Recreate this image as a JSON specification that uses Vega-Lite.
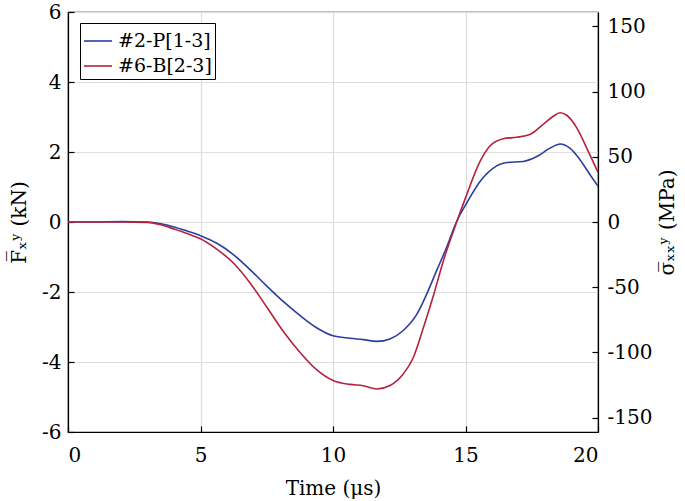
{
  "$schema": "https://vega.github.io/schema/vega-lite/v6.json",
  "width": 530,
  "height": 420,
  "autosize": {"type": "none"},
  "padding": {"left": 68, "top": 12, "right": 87, "bottom": 69},
  "background": "white",
  "config": {
    "view": {"stroke": "black", "strokeWidth": 1.2},
    "font": "DejaVu Serif",
    "axis": {
      "domainColor": "black",
      "domainWidth": 1.2,
      "tickColor": "black",
      "tickWidth": 1.2,
      "tickSize": -6,
      "labelColor": "black",
      "titleColor": "black",
      "labelFont": "DejaVu Serif",
      "titleFont": "DejaVu Serif",
      "labelFontSize": 20,
      "titleFontSize": 20,
      "titleFontWeight": "normal",
      "gridColor": "#dedede",
      "gridWidth": 1.2,
      "labelExpr": "toString(datum.value)"
    }
  },
  "datasets": {
    "curves": [
      {"series": "#2-P[1-3]", "t": 0, "F": 0},
      {"series": "#2-P[1-3]", "t": 1, "F": 0.0},
      {"series": "#2-P[1-3]", "t": 2, "F": 0.01},
      {"series": "#2-P[1-3]", "t": 3, "F": 0.0},
      {"series": "#2-P[1-3]", "t": 3.5, "F": -0.05},
      {"series": "#2-P[1-3]", "t": 4, "F": -0.14},
      {"series": "#2-P[1-3]", "t": 4.5, "F": -0.26},
      {"series": "#2-P[1-3]", "t": 5, "F": -0.39},
      {"series": "#2-P[1-3]", "t": 5.6, "F": -0.6},
      {"series": "#2-P[1-3]", "t": 6.24, "F": -0.93},
      {"series": "#2-P[1-3]", "t": 6.87, "F": -1.36},
      {"series": "#2-P[1-3]", "t": 7.5, "F": -1.83},
      {"series": "#2-P[1-3]", "t": 8.12, "F": -2.27},
      {"series": "#2-P[1-3]", "t": 8.75, "F": -2.67},
      {"series": "#2-P[1-3]", "t": 9.38, "F": -3.02},
      {"series": "#2-P[1-3]", "t": 10, "F": -3.25},
      {"series": "#2-P[1-3]", "t": 10.64, "F": -3.32},
      {"series": "#2-P[1-3]", "t": 11.14, "F": -3.36},
      {"series": "#2-P[1-3]", "t": 11.65, "F": -3.41},
      {"series": "#2-P[1-3]", "t": 12.15, "F": -3.34},
      {"series": "#2-P[1-3]", "t": 12.65, "F": -3.1},
      {"series": "#2-P[1-3]", "t": 13.16, "F": -2.64},
      {"series": "#2-P[1-3]", "t": 13.53, "F": -2.07},
      {"series": "#2-P[1-3]", "t": 13.91, "F": -1.39},
      {"series": "#2-P[1-3]", "t": 14.23, "F": -0.83},
      {"series": "#2-P[1-3]", "t": 14.7, "F": 0.07},
      {"series": "#2-P[1-3]", "t": 15.05, "F": 0.55},
      {"series": "#2-P[1-3]", "t": 15.55, "F": 1.16},
      {"series": "#2-P[1-3]", "t": 16.05, "F": 1.54},
      {"series": "#2-P[1-3]", "t": 16.55, "F": 1.7},
      {"series": "#2-P[1-3]", "t": 17.18, "F": 1.73},
      {"series": "#2-P[1-3]", "t": 17.69, "F": 1.87},
      {"series": "#2-P[1-3]", "t": 18.19, "F": 2.11},
      {"series": "#2-P[1-3]", "t": 18.57, "F": 2.23},
      {"series": "#2-P[1-3]", "t": 18.94, "F": 2.11},
      {"series": "#2-P[1-3]", "t": 19.32, "F": 1.78},
      {"series": "#2-P[1-3]", "t": 19.7, "F": 1.35},
      {"series": "#2-P[1-3]", "t": 20, "F": 1.02},
      {"series": "#6-B[2-3]", "t": 0, "F": 0},
      {"series": "#6-B[2-3]", "t": 1, "F": 0.0},
      {"series": "#6-B[2-3]", "t": 2, "F": 0.0},
      {"series": "#6-B[2-3]", "t": 3, "F": -0.01},
      {"series": "#6-B[2-3]", "t": 3.5, "F": -0.08},
      {"series": "#6-B[2-3]", "t": 4, "F": -0.2},
      {"series": "#6-B[2-3]", "t": 4.5, "F": -0.33},
      {"series": "#6-B[2-3]", "t": 5, "F": -0.48},
      {"series": "#6-B[2-3]", "t": 5.6, "F": -0.77},
      {"series": "#6-B[2-3]", "t": 6.24, "F": -1.17},
      {"series": "#6-B[2-3]", "t": 6.87, "F": -1.74},
      {"series": "#6-B[2-3]", "t": 7.5, "F": -2.43},
      {"series": "#6-B[2-3]", "t": 8.12, "F": -3.12},
      {"series": "#6-B[2-3]", "t": 8.75, "F": -3.72},
      {"series": "#6-B[2-3]", "t": 9.38, "F": -4.22},
      {"series": "#6-B[2-3]", "t": 10, "F": -4.53},
      {"series": "#6-B[2-3]", "t": 10.64, "F": -4.64},
      {"series": "#6-B[2-3]", "t": 11.14, "F": -4.68},
      {"series": "#6-B[2-3]", "t": 11.65, "F": -4.77},
      {"series": "#6-B[2-3]", "t": 12.15, "F": -4.67},
      {"series": "#6-B[2-3]", "t": 12.65, "F": -4.34},
      {"series": "#6-B[2-3]", "t": 13.03, "F": -3.87},
      {"series": "#6-B[2-3]", "t": 13.41, "F": -3.02},
      {"series": "#6-B[2-3]", "t": 13.79, "F": -2.1},
      {"series": "#6-B[2-3]", "t": 14.16, "F": -1.12},
      {"series": "#6-B[2-3]", "t": 14.7, "F": 0.07},
      {"series": "#6-B[2-3]", "t": 15.0, "F": 0.69},
      {"series": "#6-B[2-3]", "t": 15.55, "F": 1.73},
      {"series": "#6-B[2-3]", "t": 15.92, "F": 2.17},
      {"series": "#6-B[2-3]", "t": 16.43, "F": 2.38},
      {"series": "#6-B[2-3]", "t": 16.93, "F": 2.42},
      {"series": "#6-B[2-3]", "t": 17.43, "F": 2.5},
      {"series": "#6-B[2-3]", "t": 17.93, "F": 2.79},
      {"series": "#6-B[2-3]", "t": 18.31, "F": 3.02},
      {"series": "#6-B[2-3]", "t": 18.57, "F": 3.12},
      {"series": "#6-B[2-3]", "t": 18.82, "F": 3.05},
      {"series": "#6-B[2-3]", "t": 19.2, "F": 2.69},
      {"series": "#6-B[2-3]", "t": 19.57, "F": 2.12},
      {"series": "#6-B[2-3]", "t": 20, "F": 1.42}
    ],
    "rightAxis": [
      {"s": -161},
      {"s": 161}
    ]
  },
  "layer": [
    {
      "data": {"name": "curves"},
      "mark": {"type": "line", "strokeWidth": 1.6, "interpolate": "monotone"},
      "encoding": {
        "x": {
          "field": "t",
          "type": "quantitative",
          "scale": {"domain": [0, 20], "nice": false, "zero": false},
          "axis": {"values": [0, 5, 10, 15, 20], "title": "Time (μs)", "labelPadding": 19, "titleY": 56, "titleBaseline": "middle"}
        },
        "y": {
          "field": "F",
          "type": "quantitative",
          "scale": {"domain": [-6, 6], "nice": false},
          "axis": {"orient": "left", "values": [-6, -4, -2, 0, 2, 4, 6], "title": "F̅ₓʸ (kN)", "labelPadding": 13, "titleX": -49, "titleBaseline": "middle"}
        },
        "color": {
          "field": "series",
          "type": "nominal",
          "scale": {"domain": ["#2-P[1-3]", "#6-B[2-3]"], "range": ["#2a3f9e", "#b5223f"]},
          "legend": {
            "orient": "none",
            "legendX": 12,
            "legendY": 11,
            "title": null,
            "strokeColor": "black",
            "fillColor": "white",
            "padding": 3,
            "symbolType": "stroke",
            "symbolSize": 784,
            "symbolStrokeWidth": 1.6,
            "labelFont": "DejaVu Serif",
            "labelFontSize": 19,
            "labelColor": "black",
            "labelOffset": 5,
            "rowPadding": 0
          }
        }
      }
    },
    {
      "data": {"name": "rightAxis"},
      "mark": {"type": "point", "opacity": 0},
      "encoding": {
        "y": {
          "field": "s",
          "type": "quantitative",
          "scale": {"domain": [-161, 161], "nice": false},
          "axis": {"orient": "right", "values": [-150, -100, -50, 0, 50, 100, 150], "title": "σ̅ₓₓʸ (MPa)", "grid": false, "labelPadding": 15, "titleAngle": -90, "titleX": 69, "titleBaseline": "middle"}
        }
      }
    }
  ],
  "resolve": {"scale": {"y": "independent"}}
}
